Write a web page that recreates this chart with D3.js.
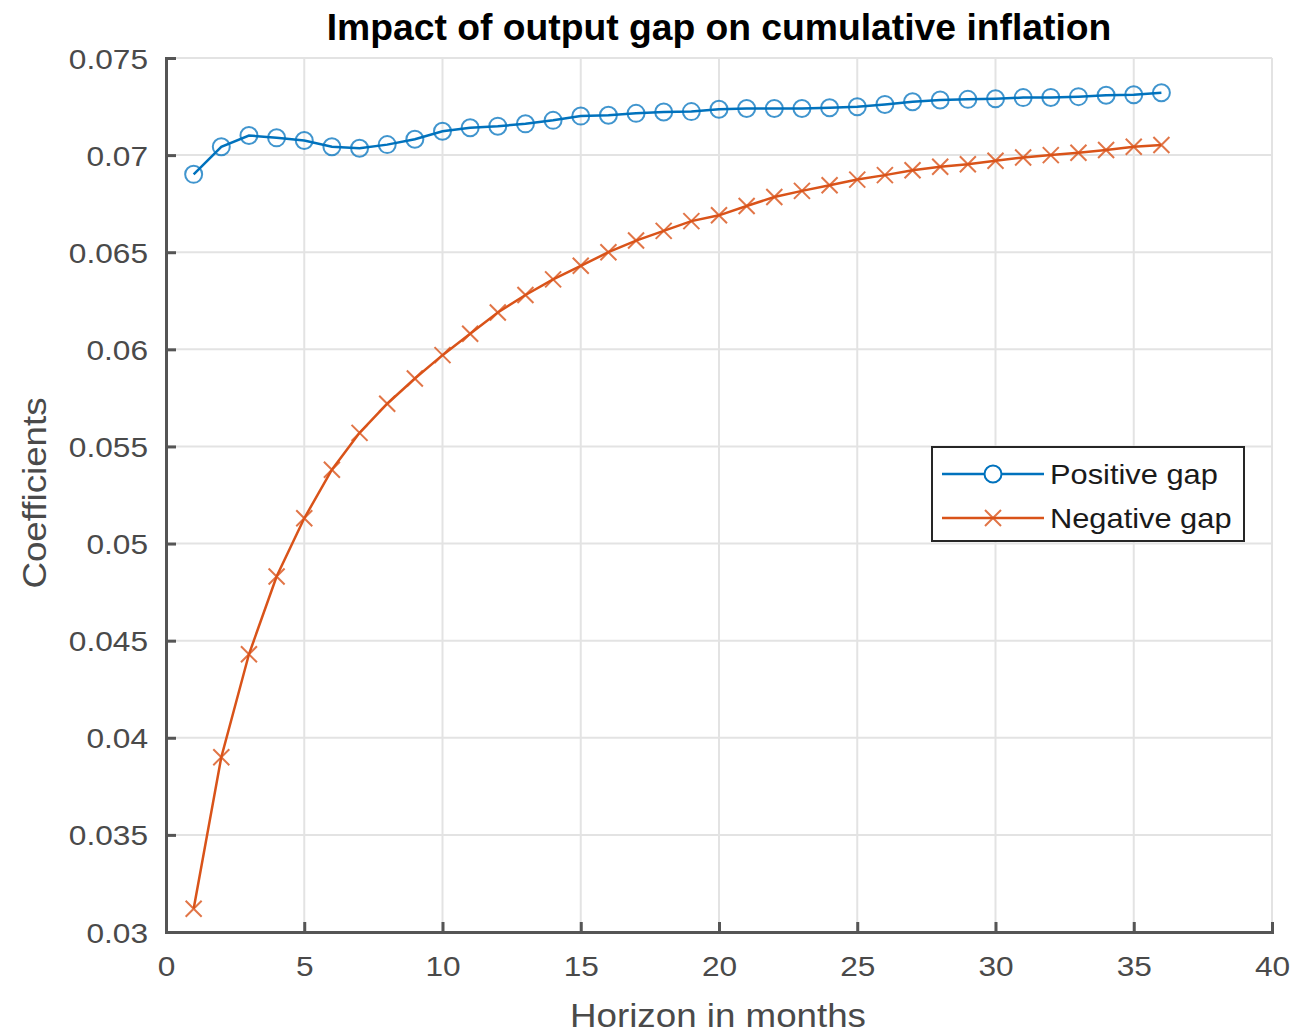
<!DOCTYPE html>
<html>
<head>
<meta charset="utf-8">
<script src="https://cdn.jsdelivr.net/npm/d3@7"></script>
<style>
  body { margin: 0; background: #fff; }
  text { font-family: "Liberation Sans", Arial, sans-serif; }
</style>
</head>
<body>
<div id="chart-area"></div>
<script>
// Data ---------------------------------------------------
const months = [1, 2, 3, 4, 5, 6, 7, 8, 9, 10, 11, 12, 13, 14, 15, 16, 17, 18,
  19, 20, 21, 22, 23, 24, 25, 26, 27, 28, 29, 30, 31, 32, 33, 34, 35, 36]

const positiveGap = [0.06901, 0.07043, 0.07101, 0.07089, 0.07075, 0.07043, 0.07035, 0.07054,
  0.07082, 0.07123, 0.07141, 0.07149, 0.07161, 0.07179, 0.07201, 0.07205, 0.07215, 0.07222,
  0.07224, 0.07236, 0.0724, 0.0724, 0.0724, 0.07244, 0.07249, 0.07261, 0.07275, 0.07284,
  0.07287, 0.0729, 0.07296, 0.07297, 0.07301, 0.07308, 0.07311, 0.07321]

const negativeGap = [0.0312, 0.0390, 0.0443, 0.0483, 0.0513, 0.0538, 0.0557, 0.0572,
  0.0585, 0.0597, 0.0608, 0.0619, 0.0628, 0.0636, 0.0643, 0.0650, 0.0656, 0.0661,
  0.0666, 0.0669, 0.06738, 0.06784, 0.06816, 0.06845, 0.06874, 0.06897, 0.06922, 0.0694,
  0.06953, 0.06971, 0.06988, 0.07, 0.07012, 0.07026, 0.07043, 0.07052]

const seriesNames = ["Positive gap", "Negative gap"]
const xTicks = [0, 5, 10, 15, 20, 25, 30, 35, 40]
const yTicks = [0.03, 0.035, 0.04, 0.045, 0.05, 0.055, 0.06, 0.065, 0.07, 0.075]

// Canvas setup -------------------------------------------
const MARGIN = {LEFT: 166, RIGHT: 22, TOP: 58, BOTTOM: 103}
const WIDTH = 1294 - MARGIN.LEFT - MARGIN.RIGHT
const HEIGHT = 1035 - MARGIN.TOP - MARGIN.BOTTOM

const BLUE = "#0072BD"
const ORANGE = "#D95319"
const AXIS = "#555"
const TXT = "#4a4a4a"

const svg = d3.select("#chart-area").append("svg")
  .attr("width", 1294)
  .attr("height", 1035)

const g = svg.append("g")
  .attr("transform", `translate(${MARGIN.LEFT}, ${MARGIN.TOP})`)

const x = d3.scaleLinear().domain([0, 40]).range([0, WIDTH])
const y = d3.scaleLinear().domain([0.03, 0.075]).range([HEIGHT, 0])

// the source font runs a bit wider than Liberation Sans
function stretch(sel, k){
  sel.each(function(){
    const len = this.getComputedTextLength()
    d3.select(this)
      .attr("textLength", len * k)
      .attr("lengthAdjust", "spacingAndGlyphs")
  })
}

// grid
g.selectAll(".vgrid").data(xTicks).enter().append("line")
  .attr("x1", d => x(d)).attr("x2", d => x(d))
  .attr("y1", 0).attr("y2", HEIGHT)
  .attr("stroke", "#e3e3e3").attr("stroke-width", 2)

g.selectAll(".hgrid").data(yTicks).enter().append("line")
  .attr("x1", 0).attr("x2", WIDTH)
  .attr("y1", d => y(d)).attr("y2", d => y(d))
  .attr("stroke", "#e3e3e3").attr("stroke-width", 2)

// axes (ticks pointing inward, like matlab)
const xAxis = g.append("g")
  .attr("transform", `translate(0, ${HEIGHT})`)
  .call(d3.axisBottom(x).tickValues(xTicks).tickSize(-10).tickPadding(24).tickFormat(d3.format("d")))
const yAxis = g.append("g")
  .call(d3.axisLeft(y).tickValues(yTicks).tickSize(-10).tickPadding(18).tickFormat(d3.format("~g")))

;[xAxis, yAxis].forEach(a => {
  a.select(".domain").attr("stroke", AXIS).attr("stroke-width", 3)
  a.selectAll(".tick line").attr("stroke", AXIS).attr("stroke-width", 3)
  a.selectAll(".tick text")
    .attr("fill", TXT)
    .attr("font-size", "28px")
    .attr("font-family", "Liberation Sans, Arial, sans-serif")
    .call(stretch, 1.13)
})
xAxis.selectAll(".tick text").attr("dy", "0.71em")
yAxis.selectAll(".tick text").attr("dy", "0.36em")

// lines
const line = d3.line()
  .x((d, i) => x(months[i]))
  .y(d => y(d))

g.append("path").datum(positiveGap)
  .attr("d", line)
  .attr("fill", "none").attr("stroke", BLUE).attr("stroke-width", 2.5)

g.append("path").datum(negativeGap)
  .attr("d", line)
  .attr("fill", "none").attr("stroke", ORANGE).attr("stroke-width", 2.5)

// markers
g.selectAll(".pos").data(positiveGap).enter().append("circle")
  .attr("cx", (d, i) => x(months[i]))
  .attr("cy", d => y(d))
  .attr("r", 8.5)
  .attr("fill", "none").attr("stroke", BLUE).attr("stroke-width", 2)
  .attr("opacity", 0.75)

const cross = 8
function drawCross(sel, color){
  sel.append("path")
    .attr("d", `M${-cross},${-cross}L${cross},${cross}M${-cross},${cross}L${cross},${-cross}`)
    .attr("stroke", color).attr("stroke-width", 2).attr("fill", "none")
    .attr("opacity", 0.8)
}
g.selectAll(".neg").data(negativeGap).enter().append("g")
  .attr("transform", (d, i) => `translate(${x(months[i])}, ${y(d)})`)
  .call(drawCross, ORANGE)

// legend
const legend = svg.append("g").attr("transform", "translate(932, 447)")
legend.append("rect")
  .attr("width", 312).attr("height", 94)
  .attr("fill", "#fff").attr("stroke", "#262626").attr("stroke-width", 2)

const rows = legend.selectAll(".row").data(seriesNames).enter().append("g")
  .attr("transform", (d, i) => `translate(0, ${27 + i * 44})`)
rows.append("line")
  .attr("x1", 10).attr("x2", 112).attr("y1", 0).attr("y2", 0)
  .attr("stroke", (d, i) => i == 0 ? BLUE : ORANGE).attr("stroke-width", 2.5)
rows.filter((d, i) => i == 0).append("circle")
  .attr("cx", 61).attr("cy", 0).attr("r", 8.5)
  .attr("fill", "#fff").attr("stroke", BLUE).attr("stroke-width", 2)
rows.filter((d, i) => i == 1).append("g")
  .attr("transform", "translate(61, 0)")
  .call(drawCross, ORANGE)
rows.append("text")
  .text(d => d)
  .attr("x", 118).attr("y", 0).attr("dy", "0.36em")
  .attr("font-size", "28px").attr("fill", "#1a1a1a")
  .call(stretch, 1.1)

// titles
svg.append("text")
  .text("Impact of output gap on cumulative inflation")
  .attr("x", 719).attr("y", 40)
  .attr("text-anchor", "middle")
  .attr("font-size", "36px").attr("font-weight", "bold").attr("fill", "#000")
  .call(stretch, 1.035)

svg.append("text")
  .text("Horizon in months")
  .attr("x", 718).attr("y", 1027)
  .attr("text-anchor", "middle")
  .attr("font-size", "34px").attr("fill", TXT)
  .call(stretch, 1.08)

svg.append("text")
  .text("Coefficients")
  .attr("transform", "translate(46, 493) rotate(-90)")
  .attr("text-anchor", "middle")
  .attr("font-size", "34px").attr("fill", TXT)
  .call(stretch, 1.08)
</script>
</body>
</html>
